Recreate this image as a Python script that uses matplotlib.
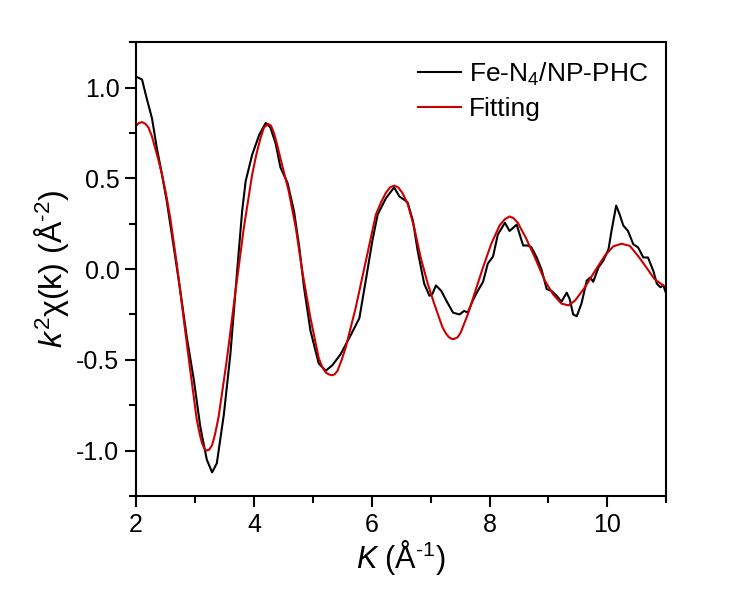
import numpy as np
import matplotlib.pyplot as plt

plt.rcParams['font.family'] = ['Liberation Sans', 'DejaVu Sans']
plt.rcParams['mathtext.fontset'] = 'custom'
plt.rcParams['mathtext.rm'] = 'Liberation Sans'
plt.rcParams['mathtext.it'] = 'Liberation Sans:italic'

# experimental k^2 chi(k)
k_exp = [2.0, 2.1, 2.18, 2.27, 2.35, 2.44, 2.52, 2.64, 2.75, 2.86, 2.98, 3.09, 3.2, 3.29,
         3.37, 3.49, 3.6, 3.71, 3.8, 3.86, 3.97, 4.09, 4.2, 4.28, 4.37, 4.45, 4.57, 4.68,
         4.77, 4.85, 4.96, 5.1, 5.22, 5.33, 5.47, 5.65, 5.79, 5.9, 6.01, 6.1, 6.24, 6.38,
         6.47, 6.58, 6.61, 6.7, 6.78, 6.89, 6.98, 7.03, 7.09, 7.18, 7.26, 7.38, 7.49, 7.57,
         7.63, 7.72, 7.8, 7.89, 7.97, 8.06, 8.14, 8.26, 8.34, 8.46, 8.57, 8.65, 8.71, 8.8,
         8.88, 8.97, 9.05, 9.14, 9.22, 9.31, 9.36, 9.42, 9.48, 9.56, 9.65, 9.71, 9.76, 9.85,
         9.93, 10.02, 10.07, 10.15, 10.21, 10.27, 10.35, 10.44, 10.52, 10.61, 10.69, 10.78,
         10.84, 10.9, 10.95, 11.0]
chi_exp = [1.06, 1.045, 0.94, 0.83, 0.67, 0.52, 0.375, 0.12, -0.12, -0.375, -0.61, -0.87, -1.05, -1.12,
           -1.07, -0.8, -0.47, -0.03, 0.32, 0.485, 0.63, 0.74, 0.805, 0.78, 0.69, 0.56, 0.475, 0.32,
           0.12, -0.1, -0.34, -0.52, -0.56, -0.53, -0.47, -0.36, -0.27, -0.06, 0.155, 0.3, 0.39, 0.45,
           0.4, 0.375, 0.366, 0.265, 0.1, -0.08, -0.147, -0.137, -0.09, -0.12, -0.17, -0.24, -0.25, -0.23,
           -0.24, -0.17, -0.12, -0.07, 0.03, 0.07, 0.19, 0.255, 0.21, 0.245, 0.13, 0.13, 0.12, 0.064,
           0.0, -0.11, -0.12, -0.147, -0.18, -0.13, -0.165, -0.25, -0.26, -0.19, -0.064, -0.046, -0.07, 0.01,
           0.046, 0.11, 0.21, 0.35, 0.3, 0.24, 0.21, 0.137, 0.12, 0.064, 0.064, -0.01,
           -0.08, -0.1, -0.09, -0.137]

# fitted curve
k_fit = [2.0, 2.05, 2.1, 2.16, 2.21, 2.27, 2.32, 2.38, 2.44, 2.51, 2.58, 2.69, 2.81, 2.92,
         3.03, 3.08, 3.12, 3.16, 3.19, 3.24, 3.29, 3.34, 3.4, 3.54, 3.68, 3.83, 3.97, 4.04,
         4.11, 4.17, 4.24, 4.29, 4.34, 4.39, 4.45, 4.52, 4.59, 4.71, 4.82, 4.96, 5.1, 5.16,
         5.22, 5.27, 5.32, 5.37, 5.42, 5.49, 5.56, 5.73, 5.9, 6.07, 6.16, 6.24, 6.31, 6.38,
         6.45, 6.52, 6.61, 6.72, 6.83, 6.95, 7.06, 7.2, 7.26, 7.31, 7.36, 7.4, 7.46, 7.51,
         7.63, 7.74, 7.89, 8.03, 8.17, 8.26, 8.34, 8.41, 8.48, 8.62, 8.77, 8.88, 8.94, 9.08,
         9.22, 9.34, 9.45, 9.62, 9.79, 9.96, 10.1, 10.24, 10.38, 10.52, 10.66, 10.8, 10.95, 11.0]
chi_fit = [0.79, 0.805, 0.81, 0.8, 0.78, 0.73, 0.67, 0.6, 0.52, 0.41, 0.28, 0.03, -0.28, -0.56,
           -0.83, -0.91, -0.96, -0.99, -1.0, -0.995, -0.97, -0.91, -0.815, -0.5, -0.14, 0.23, 0.52, 0.63,
           0.72, 0.78, 0.8, 0.79, 0.75, 0.69, 0.61, 0.52, 0.43, 0.23, -0.01, -0.27, -0.49, -0.54,
           -0.57, -0.58, -0.585, -0.58, -0.56, -0.5, -0.43, -0.21, 0.045, 0.3, 0.37, 0.42, 0.45, 0.46,
           0.45, 0.42, 0.36, 0.23, 0.065, -0.08, -0.19, -0.32, -0.355, -0.375, -0.385, -0.385, -0.375, -0.35,
           -0.25, -0.14, 0.01, 0.14, 0.24, 0.275, 0.29, 0.28, 0.255, 0.17, 0.064, -0.02,
           -0.064, -0.14, -0.19, -0.2, -0.174, -0.1, -0.01, 0.075, 0.125, 0.14, 0.128, 0.073, 0.01, -0.055,
           -0.09, -0.1]

fig = plt.figure(figsize=(7.52, 6.03), dpi=100)
ax = fig.add_axes([0.181, 0.1775, 0.705, 0.7525])

ax.plot(k_exp, chi_exp, color='black', lw=1.5, label='Fe-N$_4$/NP-PHC')
ax.plot(k_fit, chi_fit, color='#CC0000', lw=1.5, label='Fitting')

ax.set_xlim(2, 11)
ax.set_ylim(-1.25, 1.25)
ax.set_xticks([2, 4, 6, 8, 10])
ax.set_xticks([3, 5, 7, 9, 11], minor=True)
ax.set_yticks([-1.0, -0.5, 0.0, 0.5, 1.0])
ax.set_yticks(np.arange(-1.25, 1.26, 0.25), minor=True)
ax.set_yticklabels(['-1.0', '-0.5', '0.0', '0.5', '1.0'])

ax.tick_params(which='major', direction='out', length=8, width=1.5, labelsize=18, pad=4)
ax.tick_params(which='minor', direction='out', length=5, width=1.5)
for s in ax.spines.values():
    s.set_linewidth(1.5)

ax.set_xlabel(r'$K$ (Å$^{\text{-1}}$)', fontsize=22, labelpad=1)
ax.set_ylabel(r'$k^2$χ(k) (Å$^{\text{-2}}$)', fontsize=23, labelpad=4)

ax.legend(loc='upper right', frameon=False, fontsize=19, handlelength=1.6,
          handletextpad=0.3, labelspacing=0.35, borderaxespad=0.3)

fig.savefig('out.png', dpi=100)
